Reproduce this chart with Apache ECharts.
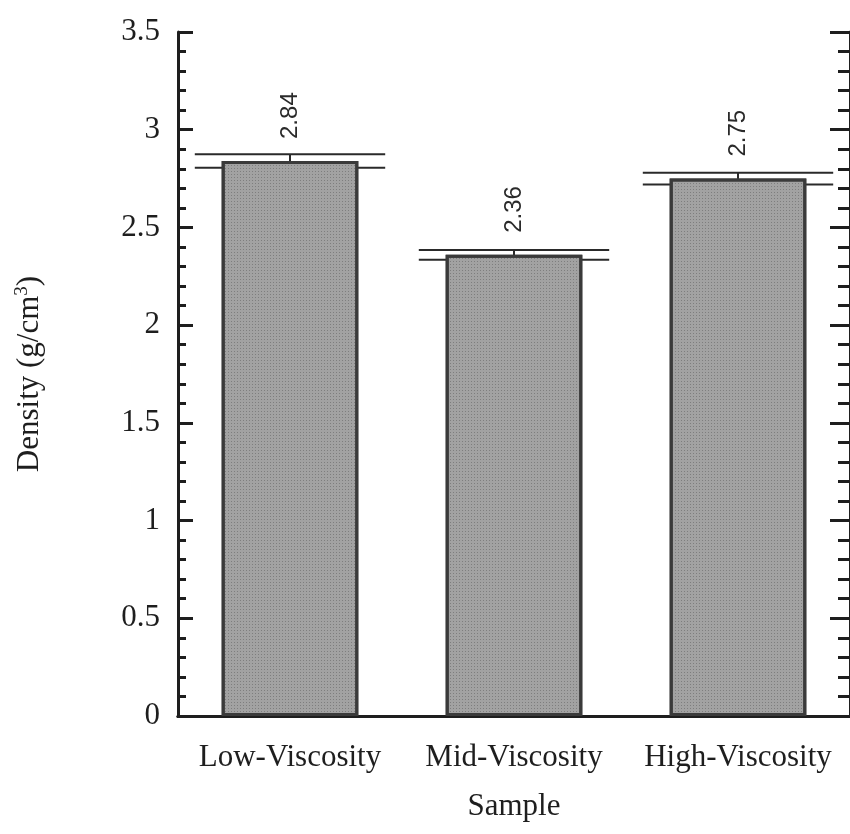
<!DOCTYPE html>
<html>
<head>
<meta charset="utf-8">
<title>Density by Sample</title>
<script src="https://cdn.jsdelivr.net/npm/echarts@6/dist/echarts.min.js"></script>
<style>
  html, body { margin: 0; padding: 0; background: #ffffff; overflow: hidden; }
  #chart { width: 850px; height: 834px; }
</style>
</head>
<body>
<div id="chart"></div>
<script>
// Sample groups and their measured densities (g/cm³)
const categories = ['Low-Viscosity', 'Mid-Viscosity', 'High-Viscosity'];
const densities = [2.84, 2.36, 2.75];
// Half-width of the error bar for each sample
const errors = [0.035, 0.025, 0.03];
// Y axis range and tick step
const yMin = 0;
const yMax = 3.5;
const yStep = 0.5;

const serif = '"Liberation Serif", "Times New Roman", serif';
const sans = '"Liberation Sans", Arial, sans-serif';
const ink = '#1e1e1e';

const errorData = categories.map((c, i) => [i, densities[i] - errors[i], densities[i] + errors[i]]);

const chart = echarts.init(document.getElementById('chart'));

function valueAxis(tickLen, minorLen) {
  return {
    type: 'value',
    min: yMin,
    max: yMax,
    interval: yStep,
    splitLine: { show: false },
    axisLine: { show: true, lineStyle: { color: ink, width: 3 } },
    axisTick: { show: true, inside: true, length: tickLen, lineStyle: { color: ink, width: 3 } },
    minorTick: { show: true, splitNumber: 5, length: minorLen, lineStyle: { color: ink, width: 3 } }
  };
}

chart.setOption({
  animation: false,
  backgroundColor: '#ffffff',
  grid: { left: 178, right: -5, top: 32, bottom: 118, containLabel: false },
  xAxis: [
    {
      type: 'category',
      data: categories,
      position: 'bottom',
      axisLine: { show: true, lineStyle: { color: ink, width: 3 } },
      axisTick: { show: false },
      axisLabel: { color: ink, fontFamily: serif, fontSize: 31, margin: 26, interval: 0 },
      name: 'Sample',
      nameLocation: 'middle',
      nameGap: 75,
      nameTextStyle: { color: ink, fontFamily: serif, fontSize: 31 }
    },
    {
      type: 'category',
      data: categories,
      position: 'top',
      axisLine: { show: true, lineStyle: { color: ink, width: 3 } },
      axisTick: { show: false },
      axisLabel: { show: false }
    }
  ],
  yAxis: [
    Object.assign(valueAxis(15, 8), {
      position: 'left',
      axisLabel: { color: ink, fontFamily: serif, fontSize: 31, margin: 18 },
      name: 'Density (g/cm{sup|3})',
      nameLocation: 'middle',
      nameGap: 132,
      nameTextStyle: {
        color: ink, fontFamily: serif, fontSize: 31,
        rich: { sup: { fontFamily: serif, fontSize: 19, verticalAlign: 'top', padding: [0, 0, 14, 0], color: ink } }
      }
    }),
    Object.assign(valueAxis(20, 12), {
      position: 'right',
      axisLabel: { show: false }
    })
  ],
  series: [
    {
      type: 'custom',
      name: 'error',
      z: 1,
      data: errorData,
      renderItem: function (params, api) {
        const idx = api.value(0);
        const lo = api.coord([idx, api.value(1)]);
        const hi = api.coord([idx, api.value(2)]);
        const half = api.size([1, 0])[0] * 0.425;
        const style = { stroke: '#2a2a2a', lineWidth: 2 };
        return {
          type: 'group',
          children: [
            { type: 'line', shape: { x1: hi[0], y1: hi[1], x2: lo[0], y2: lo[1] }, style: style },
            { type: 'line', shape: { x1: hi[0] - half, y1: hi[1], x2: hi[0] + half, y2: hi[1] }, style: style },
            { type: 'line', shape: { x1: lo[0] - half, y1: lo[1], x2: lo[0] + half, y2: lo[1] }, style: style }
          ]
        };
      }
    },
    {
      type: 'bar',
      name: 'Density',
      z: 3,
      data: densities,
      barWidth: '61%',
      itemStyle: {
        color: '#a2a2a2',
        borderColor: '#3a3a3a',
        borderWidth: 3,
        // fine stippled fill
        decal: { symbol: 'rect', symbolSize: 1, color: 'rgba(60,60,60,0.35)', dashArrayX: [1, 2], dashArrayY: [1, 2], rotation: 0 }
      },
      label: {
        show: true,
        position: 'top',
        rotate: 90,
        align: 'left',
        verticalAlign: 'middle',
        distance: 22,
        fontFamily: sans,
        fontSize: 24,
        color: '#2a2a2a',
        formatter: function (p) { return p.value.toFixed(2); }
      }
    }
  ]
});
</script>
</body>
</html>
